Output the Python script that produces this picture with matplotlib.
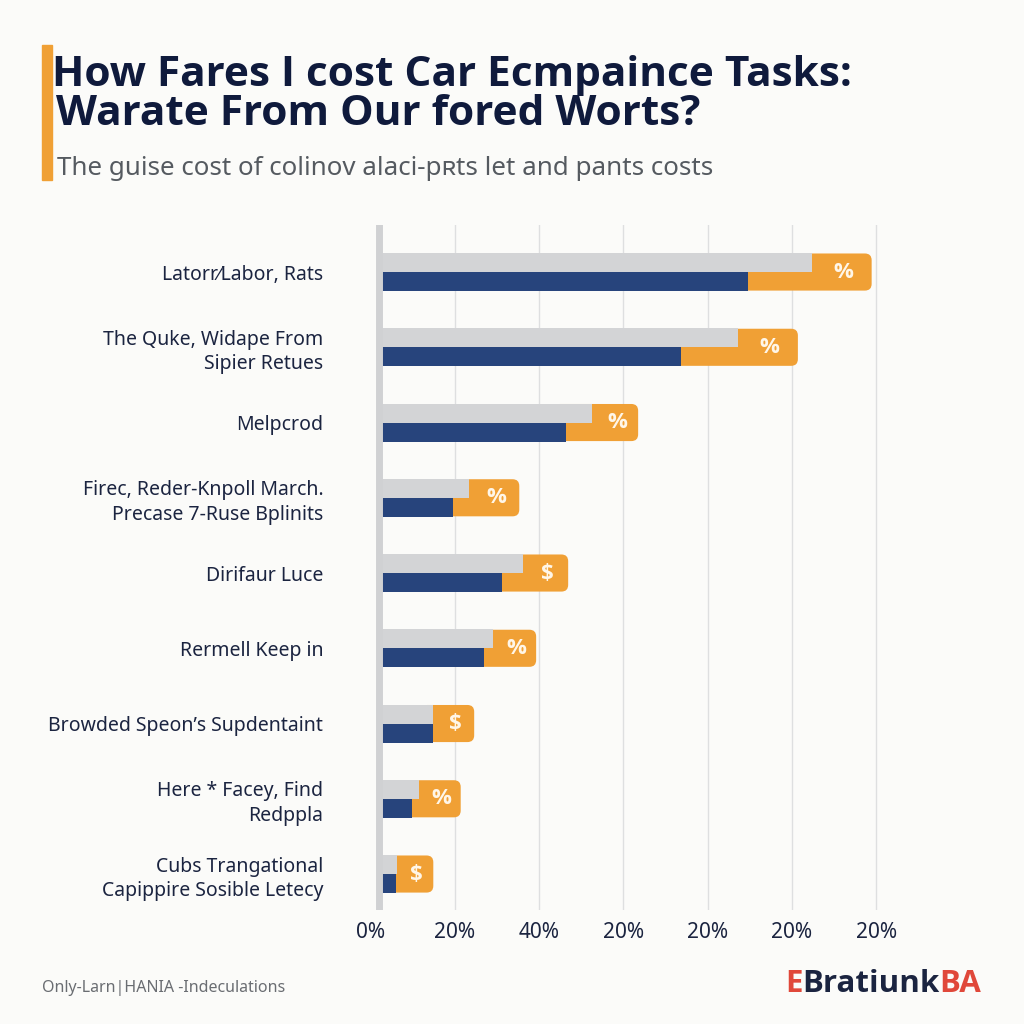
import matplotlib
matplotlib.use("Agg")
import matplotlib.pyplot as plt
import numpy as np
from matplotlib import font_manager
from matplotlib.patches import FancyBboxPatch, Rectangle

# ---------------- data ----------------
categories = [
    "Latorr\u2044Labor, Rats",
    "The Quke, Widape From\nSipier Retues",
    "Melpcrod",
    "Firec, Reder-Knpoll March.\nPrecase 7-Ruse Bplinits",
    "Dirifaur Luce",
    "Rermell Keep in",
    "Browded Speon\u2019s Supdentaint",
    "Here * Facey, Find\nRedppla",
    "Cubs Trangational\nCapippire Sosible Letecy",
]
grey_values = [104.7, 87.1, 52.6, 23.4, 36.1, 29.1, 14.9, 11.6, 6.2]
navy_values = [89.5, 73.7, 46.4, 19.5, 31.1, 26.9, 14.9, 9.8, 6.0]
total_values = [118.9, 101.4, 63.5, 35.3, 46.9, 39.3, 24.6, 21.4, 14.9]
symbols = ["%", "%", "%", "%", "$", "%", "$", "%", "$"]
tick_values = [0, 20, 40, 60, 80, 100, 120]
tick_labels = ["0%", "20%", "40%", "20%", "20%", "20%", "20%"]

title_line1 = "How Fares I cost Car Ecmpaince Tasks:"
title_line2 = "Warate From Our fored Worts?"
subtitle = "The guise cost of colinov alaci-p\u0280ts let and pants costs"
footer = "Only-Larn|HANIA -Indeculations"

# ---------------- style ----------------
BG = "#fbfbf9"
NAVY = "#27447c"
GREY = "#d3d4d6"
ORANGE = "#f0a035"
TEXT = "#1b2440"
GRID = "#dedfe0"
FONT = ["Noto Sans", "DejaVu Sans"]
plt.rcParams["font.family"] = FONT

def has_bold(name):
    for f in font_manager.fontManager.ttflist:
        if f.name == name and (f.weight in ("bold", 700, 800, 900) or
                               (isinstance(f.weight, int) and f.weight >= 700)):
            return True
    return False

BOLD_FONT = ["DejaVu Sans"]
for cand in ["Open Sans", "Roboto", "Lato", "Inter", "Noto Sans", "Liberation Sans"]:
    if has_bold(cand):
        BOLD_FONT = [cand, "DejaVu Sans"]
        break

W = H = 1024
fig = plt.figure(figsize=(10.24, 10.24), dpi=100, facecolor=BG)

ax_left_px, ax_right_px = 370.5, 910.0
ax_top_px, ax_bot_px = 225.0, 910.0
ax = fig.add_axes([ax_left_px / W, 1 - ax_bot_px / H,
                   (ax_right_px - ax_left_px) / W, (ax_bot_px - ax_top_px) / H])
ax.set_facecolor(BG)
xmax = 128
ylo, yhi = -0.625, 8.478
ax.set_xlim(0, xmax)
ax.set_ylim(yhi, ylo)

pxx = (ax_right_px - ax_left_px) / xmax
pxy = (ax_bot_px - ax_top_px) / (yhi - ylo)

bar_left = 2.7
bh = 0.2525
inset = 0.006
y = np.arange(len(categories))

for t in tick_values[1:]:
    ax.axvline(t, color=GRID, lw=1.0, zorder=0)

for i in range(len(categories)):
    start = min(grey_values[i], navy_values[i]) - 3
    box = FancyBboxPatch((start, y[i] - bh + inset), total_values[i] - start,
                         2 * bh - 2 * inset,
                         boxstyle="round,pad=0,rounding_size=1.6",
                         mutation_aspect=pxx / pxy,
                         facecolor=ORANGE, edgecolor="none", zorder=2)
    ax.add_patch(box)
ax.barh(y - bh / 2, np.array(grey_values) - bar_left, left=bar_left, height=bh,
        color=GREY, zorder=3)
ax.barh(y + bh / 2, np.array(navy_values) - bar_left, left=bar_left, height=bh,
        color=NAVY, zorder=4)

for i in range(len(categories)):
    cx = (max(grey_values[i], navy_values[i]) + total_values[i]) / 2
    ax.text(cx + 0.4, y[i], symbols[i], ha="center", va="center", color="#fff6e8",
            fontsize=16, fontweight="bold", family=BOLD_FONT, zorder=5)

ax.axvline(1.9, color="#d0d1d3", lw=5, zorder=6)

ax.set_xticks(tick_values)
ax.set_xticklabels(tick_labels, fontsize=15, color=TEXT)
ax.set_yticks(y)
ax.set_yticklabels(categories, fontsize=14, color=TEXT, linespacing=1.3)
ax.tick_params(axis="x", length=0, pad=9)
ax.tick_params(axis="y", length=0, pad=34)
for s in ax.spines.values():
    s.set_visible(False)

# title block
fig.patches.append(Rectangle((42 / W, 1 - 180 / H), 10 / W, 135 / H,
                             transform=fig.transFigure, color=ORANGE))
fig.text(52 / W, 1 - 86 / H, title_line1, fontsize=30.5, fontweight="bold",
         family=BOLD_FONT, color="#0f1a3c", ha="left", va="baseline")
fig.text(56 / W, 1 - 125 / H, title_line2, fontsize=30.5, fontweight="bold",
         family=BOLD_FONT, color="#0f1a3c", ha="left", va="baseline")
fig.text(57 / W, 1 - 175 / H, subtitle, fontsize=18.7, color="#555a60",
         ha="left", va="baseline")

# footer
fig.text(42 / W, 1 - 992 / H, footer, fontsize=11.5, color="#6a6d72",
         ha="left", va="baseline")

renderer = fig.canvas.get_renderer()
t_e = fig.text(785 / W, 1 - 992 / H, "E", fontsize=22.5, fontweight="bold",
               family=BOLD_FONT, color="#e0483a", ha="left", va="baseline")
e_bb = t_e.get_window_extent(renderer)
t_b = fig.text(e_bb.x1 / W, 1 - 992 / H, "Bratiunk", fontsize=22.5, fontweight="bold",
               family=BOLD_FONT, color="#1b2440", ha="left", va="baseline")
b_bb = t_b.get_window_extent(renderer)
fig.text(b_bb.x1 / W, 1 - 992 / H, "BA", fontsize=22.5, fontweight="bold",
         family=BOLD_FONT, color="#e0483a", ha="left", va="baseline")

fig.savefig("out.png", dpi=100, facecolor=BG)
